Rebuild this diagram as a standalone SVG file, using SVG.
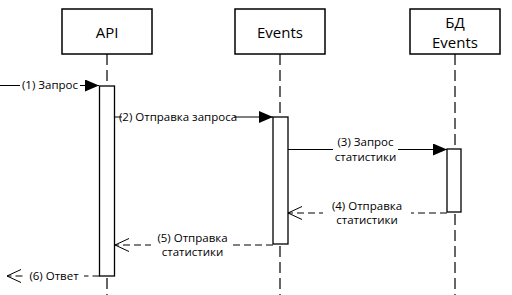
<svg xmlns="http://www.w3.org/2000/svg" width="512" height="295" viewBox="0 0 512 295">
<style>
.box{fill:#fff;stroke:#000;stroke-width:1.5}
.act{fill:#fff;stroke:#000;stroke-width:1.3}
.life{stroke:#000;stroke-width:1.2;stroke-dasharray:11 5;fill:none}
.msg{stroke:#000;stroke-width:1;fill:none}
.ret{stroke:#000;stroke-width:1;fill:none;stroke-dasharray:7 4}
.bg{fill:#fff}
.t{font-family:"Open Sans","Noto Sans",sans-serif;font-size:15px;fill:#000;text-anchor:middle}
.l{font-family:"Open Sans","Noto Sans",sans-serif;font-size:11.5px;fill:#000;text-anchor:middle}
</style>
<defs>
<marker id="fa" markerWidth="14" markerHeight="12" refX="14" refY="6" orient="auto" markerUnits="userSpaceOnUse"><path d="M0,0 L14,6 L0,12 z" fill="#000"/></marker>
<marker id="oa" markerWidth="16" markerHeight="15" refX="15" refY="7.5" orient="auto" markerUnits="userSpaceOnUse"><path d="M1,1 L15,7.5 L1,14" fill="none" stroke="#000" stroke-width="1"/></marker>
</defs>
<g id="lifelines">
<line class="life" x1="107" y1="54" x2="107" y2="295"/>
<line class="life" x1="280" y1="54" x2="280" y2="295"/>
<line class="life" x1="455" y1="54" x2="455" y2="295"/>
</g>
<g id="node-api">
<rect class="box" x="62" y="9" width="90" height="45"/>
<text class="t" x="107" y="37.5">API</text>
</g>
<g id="node-events">
<rect class="box" x="235" y="9" width="90" height="45"/>
<text class="t" x="280" y="37.5">Events</text>
</g>
<g id="node-db">
<rect class="box" x="410" y="9" width="90" height="45"/>
<text class="t" x="455" y="28">БД</text>
<text class="t" x="455" y="48">Events</text>
</g>
<g id="activations">
<rect class="act" x="99.5" y="86" width="15" height="190"/>
<rect class="act" x="273" y="117" width="15" height="127"/>
<rect class="act" x="447" y="149" width="14" height="63"/>
</g>
<g id="connectors">
<line class="msg" x1="0" y1="85.5" x2="99" y2="85.5" marker-end="url(#fa)"/>
<rect class="bg" x="20" y="76" width="60" height="14"/>
<text class="l" x="50" y="89">(1) Запрос</text>

<line class="msg" x1="114.5" y1="117" x2="273" y2="117" marker-end="url(#fa)"/>
<rect class="bg" x="122" y="108" width="112" height="14"/>
<text class="l" x="178" y="120.5">(2) Отправка запроса</text>

<line class="msg" x1="288" y1="149.5" x2="447" y2="149.5" marker-end="url(#fa)"/>
<rect class="bg" x="333" y="136" width="65" height="28"/>
<text class="l" x="365.5" y="146">(3) Запрос</text>
<text class="l" x="365.5" y="161">статистики</text>

<line class="ret" x1="447" y1="213" x2="288" y2="213" marker-end="url(#oa)"/>
<rect class="bg" x="323" y="200" width="88" height="28"/>
<text class="l" x="367" y="210">(4) Отправка</text>
<text class="l" x="367" y="224">статистики</text>

<line class="ret" x1="273" y1="245" x2="115" y2="245" marker-end="url(#oa)"/>
<rect class="bg" x="151" y="232" width="82" height="28"/>
<text class="l" x="192.5" y="242">(5) Отправка</text>
<text class="l" x="192.5" y="256">статистики</text>

<line class="ret" x1="99.5" y1="276" x2="7" y2="276" marker-end="url(#oa)"/>
<rect class="bg" x="24" y="267" width="60" height="14"/>
<text class="l" x="54" y="279.5">(6) Ответ</text>
</g>
</svg>
